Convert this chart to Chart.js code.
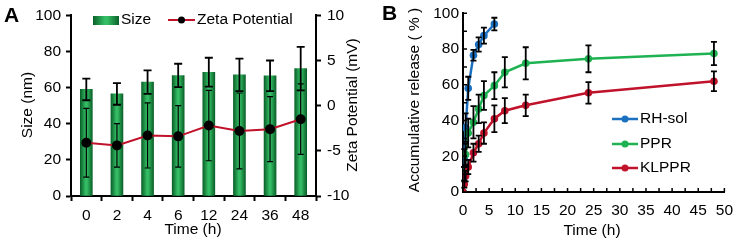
<!DOCTYPE html>
<html>
<head>
<meta charset="utf-8">
<script src="https://cdn.jsdelivr.net/npm/chart.js@4.4.0/dist/chart.umd.min.js"></script>
<style>
  html, body { margin: 0; padding: 0; background: #fff; }
  #wrap { position: relative; width: 742px; height: 247px; }
  #cA { position: absolute; left: 0; top: 0; }
  #cB { position: absolute; left: 370px; top: 0; }
</style>
</head>
<body>
<div id="wrap">
  <canvas id="cA" width="370" height="247"></canvas>
  <canvas id="cB" width="372" height="247"></canvas>
</div>
<script>
// panel A - size / zeta potential
const timesA = ["0", "2", "4", "6", "12", "24", "36", "48"];
const sizeMean = [59, 56.5, 63, 66.7, 68.5, 67, 66.5, 70.5];
const sizeErr = [6, 6, 6.5, 6.5, 8, 9, 8.5, 12];
const zetaMean = [-4.1, -4.4, -3.3, -3.4, -2.2, -2.8, -2.6, -1.5];
const zetaErr = [3.8, 2.4, 3.6, 3.4, 3.9, 4.2, 3.6, 3.9];

// panel B - release
const rhTime = [0, 0.25, 0.5, 1, 2, 3, 4, 6];
const rhRelease = [0, 19, 36, 58, 76.5, 82.5, 87.5, 94];
const rhErr = [0, 5, 8, 6.5, 3, 4, 4.5, 3.5];
const pprTime = [0, 0.25, 0.5, 1, 2, 3, 4, 6, 8, 12, 24, 48];
const pprRelease = [0, 10, 21, 33, 39, 46.5, 54, 59.5, 67, 72, 74.5, 77.5];
const pprErr = [0, 4, 6, 8, 9, 8, 8, 7.5, 8.5, 9, 7.5, 6.5];
const klTime = [0, 0.25, 0.5, 1, 2, 3, 4, 6, 8, 12, 24, 48];
const klRelease = [0, 4.5, 9, 14, 22, 27, 33, 41, 45.5, 48.5, 55.5, 62];
const klErr = [0, 2, 3, 4, 5, 4.5, 6, 7.5, 7, 6, 6, 5.5];

const FONT = "'Liberation Sans', Arial, sans-serif";
const FS = 15.5;
Chart.defaults.font.family = FONT;
Chart.defaults.font.size = FS;
Chart.defaults.color = "#000";

const RED = "rgb(192, 18, 42)";
const BLUE = "rgb(28, 112, 192)";
const GREEN = "rgb(30, 178, 82)";

function barGradient(ctx, x, w) {
  const g = ctx.createLinearGradient(x - w / 2, 0, x + w / 2, 0);
  g.addColorStop(0, "#0a6129");
  g.addColorStop(0.45, "#34bd64");
  g.addColorStop(0.55, "#34bd64");
  g.addColorStop(1, "#0a6129");
  return g;
}

// error bars for any dataset having an "errors" array
const errorBars = {
  id: "errorBars",
  afterDatasetsDraw(chart) {
    const ctx = chart.ctx;
    ctx.save();
    ctx.strokeStyle = "#000";
    chart.data.datasets.forEach((ds, i) => {
      if (!ds.errors) return;
      const meta = chart.getDatasetMeta(i);
      const sc = chart.scales[meta.yAxisID];
      ctx.lineWidth = ds.errWidth || 1.5;
      meta.data.forEach((el, j) => {
        const e = ds.errors[j];
        if (!e) return;
        const v = typeof ds.data[j] === "object" ? ds.data[j].y : ds.data[j];
        const y1 = sc.getPixelForValue(v + e);
        const y2 = sc.getPixelForValue(v - e);
        const c = ds.capW || 3;
        ctx.beginPath();
        ctx.moveTo(el.x, y1); ctx.lineTo(el.x, y2);
        ctx.moveTo(el.x - c, y1); ctx.lineTo(el.x + c, y1);
        ctx.moveTo(el.x - c, y2); ctx.lineTo(el.x + c, y2);
        ctx.stroke();
      });
    });
    ctx.restore();
  }
};

function vText(ctx, txt, x, y) {
  ctx.save();
  ctx.translate(x, y);
  ctx.rotate(-Math.PI / 2);
  ctx.fillText(txt, 0, 0);
  ctx.restore();
}

const decorA = {
  id: "decorA",
  afterDraw(chart) {
    const ctx = chart.ctx;
    ctx.save();
    ctx.fillStyle = "#000";
    ctx.textBaseline = "middle";
    ctx.font = "bold 21px " + FONT;
    ctx.textAlign = "left";
    ctx.fillText("A", 4, 16);
    ctx.font = FS + "px " + FONT;
    ctx.textAlign = "center";
    vText(ctx, "Size (nm)", 28, 105);
    vText(ctx, "Zeta Potential (mV)", 353, 105);
    ctx.fillText("Time (h)", 193, 230);
    // legend
    ctx.fillStyle = barGradient(ctx, 106, 26);
    ctx.fillRect(93, 16, 26, 9);
    ctx.fillStyle = "#000";
    ctx.textAlign = "left";
    ctx.fillText("Size", 121, 20);
    ctx.strokeStyle = RED;
    ctx.lineWidth = 2;
    ctx.beginPath(); ctx.moveTo(168, 20); ctx.lineTo(195, 20); ctx.stroke();
    ctx.beginPath(); ctx.arc(181.5, 20, 3.5, 0, Math.PI * 2); ctx.fill();
    ctx.fillText("Zeta Potential", 197, 20);
    ctx.restore();
  }
};

new Chart(document.getElementById("cA"), {
  type: "bar",
  data: {
    labels: timesA,
    datasets: [
      {
        type: "line",
        label: "Zeta Potential",
        data: zetaMean,
        yAxisID: "y1",
        borderColor: RED,
        borderWidth: 2,
        pointRadius: 4,
        pointBackgroundColor: "#000",
        pointBorderColor: "#000",
        order: 0,
        errors: zetaErr,
        errWidth: 1.2,
        capW: 3
      },
      {
        type: "bar",
        label: "Size",
        data: sizeMean,
        yAxisID: "y",
        barThickness: 12,
        backgroundColor: c => {
          const x = c.chart.scales.x;
          if (!x || c.dataIndex === undefined) return GREEN;
          const px = x.getPixelForValue(c.dataIndex);
          if (!isFinite(px)) return GREEN;
          return barGradient(c.chart.ctx, px, 12);
        },
        order: 1,
        errors: sizeErr,
        errWidth: 1.8,
        capW: 4
      }
    ]
  },
  options: {
    responsive: false,
    animation: false,
    layout: { padding: { top: 13, left: 0, right: 0, bottom: 0 } },
    plugins: { legend: { display: false }, tooltip: { enabled: false } },
    scales: {
      x: {
        grid: { drawOnChartArea: false, tickLength: 5, tickWidth: 2, tickColor: "#000" },
        border: { color: "#000", width: 2 },
        ticks: { padding: 5 },
        afterFit: s => { s.height = 51; }
      },
      y: {
        position: "left",
        min: 0, max: 100,
        ticks: { stepSize: 20, padding: 5 },
        grid: { drawOnChartArea: false, tickLength: 5, tickWidth: 2, tickColor: "#000" },
        border: { color: "#000", width: 2 },
        afterFit: s => { s.width = 71; }
      },
      y1: {
        position: "right",
        min: -10, max: 10,
        ticks: { stepSize: 5, padding: 6 },
        grid: { drawOnChartArea: false, tickLength: 5, tickWidth: 2, tickColor: "#000" },
        border: { color: "#000", width: 2 },
        afterFit: s => { s.width = 54; }
      }
    }
  },
  plugins: [errorBars, decorA]
});

// inward tick marks for panel B
const innerTicks = {
  id: "innerTicks",
  afterDraw(chart) {
    const ctx = chart.ctx;
    const a = chart.chartArea;
    ctx.save();
    ctx.strokeStyle = "#000";
    ctx.lineWidth = 1.5;
    ctx.beginPath();
    chart.scales.x.ticks.forEach(t => {
      const px = chart.scales.x.getPixelForValue(t.value);
      ctx.moveTo(px, a.bottom); ctx.lineTo(px, a.bottom - 4);
    });
    chart.scales.y.ticks.forEach(t => {
      const py = chart.scales.y.getPixelForValue(t.value);
      ctx.moveTo(a.left, py); ctx.lineTo(a.left + 4, py);
    });
    ctx.stroke();
    ctx.restore();
  }
};

const decorB = {
  id: "decorB",
  afterDraw(chart) {
    const ctx = chart.ctx;
    ctx.save();
    ctx.fillStyle = "#000";
    ctx.textBaseline = "middle";
    ctx.font = "bold 21px " + FONT;
    ctx.textAlign = "left";
    ctx.fillText("B", 12, 14);
    ctx.font = FS + "px " + FONT;
    ctx.textAlign = "center";
    vText(ctx, "Accumulative release ( % )", 45, 100);
    ctx.fillText("Time (h)", 222, 231);
    // legend
    const items = [["RH-sol", BLUE, 119], ["PPR", GREEN, 144], ["KLPPR", RED, 168]];
    ctx.textAlign = "left";
    items.forEach(([txt, col, y]) => {
      ctx.strokeStyle = col;
      ctx.fillStyle = col;
      ctx.lineWidth = 2.5;
      ctx.beginPath(); ctx.moveTo(242, y); ctx.lineTo(268, y); ctx.stroke();
      ctx.beginPath(); ctx.arc(255, y, 3.5, 0, Math.PI * 2); ctx.fill();
      ctx.fillStyle = "#000";
      ctx.fillText(txt, 270, y);
    });
    ctx.restore();
  }
};

function pts(xs, ys) {
  return xs.map((x, i) => ({ x: x, y: ys[i] }));
}

function series(label, xs, ys, errs, col, ord) {
  return {
    label: label,
    data: pts(xs, ys),
    showLine: true,
    borderColor: col,
    backgroundColor: col,
    borderWidth: 2.5,
    pointRadius: 3.8,
    pointBorderWidth: 0,
    order: ord,
    errors: errs,
    errWidth: 1.8,
    capW: 3
  };
}

new Chart(document.getElementById("cB"), {
  type: "scatter",
  data: {
    datasets: [
      series("RH-sol", rhTime, rhRelease, rhErr, BLUE, 2),
      series("PPR", pprTime, pprRelease, pprErr, GREEN, 1),
      series("KLPPR", klTime, klRelease, klErr, RED, 0)
    ]
  },
  options: {
    responsive: false,
    animation: false,
    layout: { padding: { top: 13, left: 0, right: 14, bottom: 0 } },
    plugins: { legend: { display: false }, tooltip: { enabled: false } },
    scales: {
      x: {
        type: "linear",
        min: 0, max: 50,
        ticks: { stepSize: 2.5, maxTicksLimit: 30, padding: 9, maxRotation: 0, autoSkip: false,
                 callback: v => (v % 5 === 0 ? v : "") },
        grid: { drawOnChartArea: false, drawTicks: false },
        border: { color: "#000", width: 2 },
        afterFit: s => { s.height = 55; }
      },
      y: {
        min: 0, max: 100,
        ticks: { stepSize: 10, padding: 4, autoSkip: false,
                 callback: v => (v % 20 === 0 ? v : "") },
        grid: { drawOnChartArea: false, drawTicks: false },
        border: { color: "#000", width: 2 },
        afterFit: s => { s.width = 93; }
      }
    }
  },
  plugins: [errorBars, innerTicks, decorB]
});
</script>
</body>
</html>
